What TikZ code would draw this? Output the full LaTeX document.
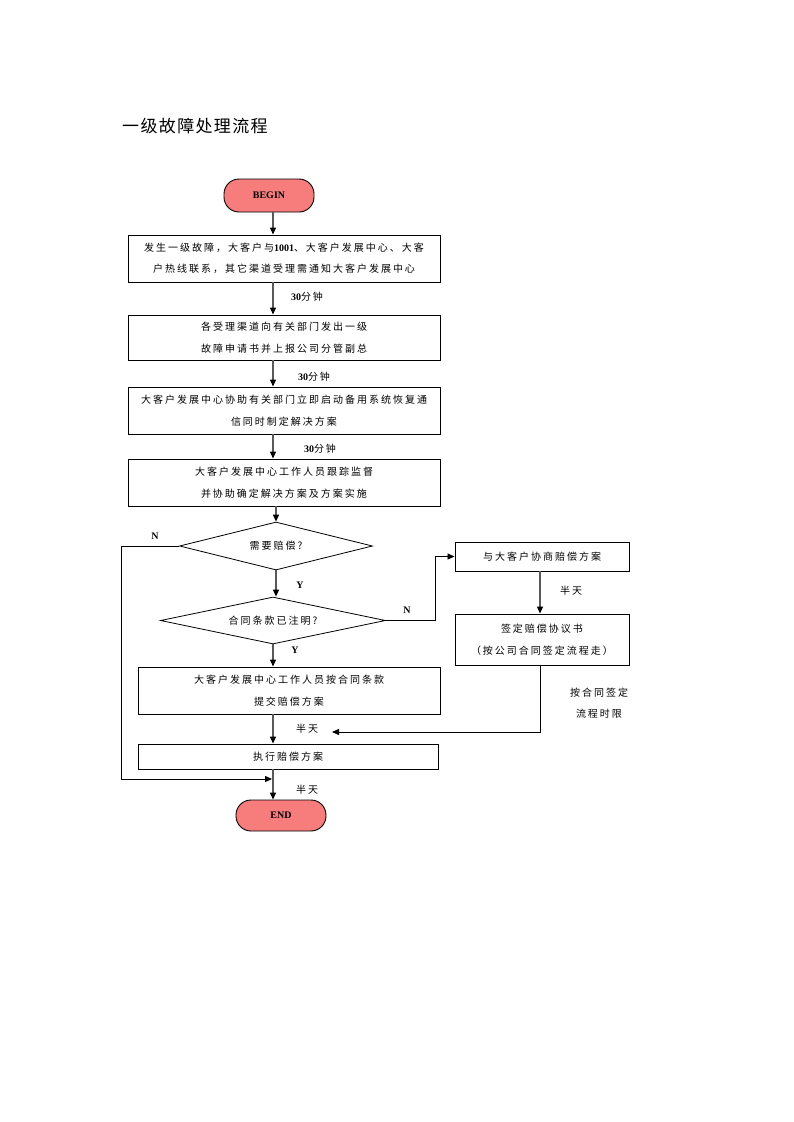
\documentclass[tikz,border=0pt]{standalone}
\usepackage{fontspec}
\setmainfont{Liberation Serif}
\newfontfamily\cjk[LetterSpace=20]{Noto Sans CJK SC}
\newfontfamily\cjktitle[LetterSpace=8]{Noto Sans CJK SC}
\usetikzlibrary{shapes.geometric,arrows.meta}
\definecolor{salmon}{RGB}{247,124,124}
\newcommand{\bn}[1]{{\rmfamily\bfseries #1}}
\begin{document}
\begin{tikzpicture}[x=1pt,y=-1pt,
  box/.style={draw=black,line width=0.9pt,rectangle,inner sep=0pt,align=center,
    font=\cjk\fontsize{10}{21.5}\selectfont},
  term/.style={draw=black,line width=0.9pt,rounded corners=15pt,fill=salmon,inner sep=0pt,
    minimum width=90pt,font=\rmfamily\bfseries\fontsize{10}{12}\selectfont},
  dia/.style={draw=black,line width=0.8pt,diamond,aspect=5,inner sep=0pt,
    font=\cjk\fontsize{10}{12}\selectfont},
  lbl/.style={inner sep=0pt,font=\cjk\fontsize{10}{21.5}\selectfont,align=center},
  yn/.style={inner sep=0pt,font=\rmfamily\bfseries\fontsize{10}{12}\selectfont},
  arr/.style={line width=1.2pt,draw=black!65,-{Triangle[length=7pt,width=6pt,fill=black,color=black]}},
  thin/.style={line width=0.8pt,draw=black,-{Triangle[length=7pt,width=6pt]}},
  plain/.style={line width=0.8pt,draw=black}]
\useasboundingbox (0,0) rectangle (793,1122);
\fill[white] (0,0) rectangle (793,1122);

\node[inner sep=0pt,anchor=west,font=\cjktitle\fontsize{17}{20}\selectfont] (title) at (122,126) {一级故障处理流程};

\node[term,minimum height=33pt] (begin) at (269,195.5) {BEGIN};
\node[box,minimum width=312pt,minimum height=47pt] (b1) at (284,258.5)
  {发生一级故障，大客户与\bn{1001}、大客户发展中心、大客\\户热线联系，其它渠道受理需通知大客户发展中心};
\node[box,minimum width=312pt,minimum height=45pt] (b2) at (284,337.5)
  {各受理渠道向有关部门发出一级\\故障申请书并上报公司分管副总};
\node[box,minimum width=312pt,minimum height=47pt] (b3) at (284,410.5)
  {大客户发展中心协助有关部门立即启动备用系统恢复通\\信同时制定解决方案};
\node[box,minimum width=312pt,minimum height=47pt] (b4) at (284,482.5)
  {大客户发展中心工作人员跟踪监督\\并协助确定解决方案及方案实施};
\node[dia,minimum width=193pt,minimum height=48pt] (d1) at (276,546) {需要赔偿?};
\node[dia,minimum width=225pt,minimum height=47pt] (d2) at (273,620.5) {合同条款已注明?};
\node[box,minimum width=174pt,minimum height=29pt] (b5) at (542,556.5) {与大客户协商赔偿方案};
\node[box,minimum width=174pt,minimum height=51pt] (b6) at (542,639.5)
  {签定赔偿协议书\\（按公司合同签定流程走）};
\node[box,minimum width=302pt,minimum height=47pt] (b7) at (289,690.5)
  {大客户发展中心工作人员按合同条款\\提交赔偿方案};
\node[box,minimum width=300pt,minimum height=25pt] (b8) at (288,756.5) {执行赔偿方案};
\node[term,minimum height=31pt] (end) at (281,815.5) {END};

\coordinate (c) at (273,0);
\coordinate (j) at (272,779);
\coordinate (jr) at (332,732);

\draw[arr] (begin.south -| c) -- (b1.north -| c);
\draw[arr] (b1.south -| c) -- (b2.north -| c);
\draw[arr] (b2.south -| c) -- (b3.north -| c);
\draw[arr] (b3.south -| c) -- (b4.north -| c);
\draw[arr] (b4.south -| d1.north) -- (d1.north);
\draw[arr] (d1.south) -- (d2.north -| d1.south);
\draw[arr] (d2.south -| c) -- (b7.north -| c);
\draw[arr] (b7.south -| c) -- (b8.north -| c);
\draw[arr] (b8.south -| c) -- (end.north -| c);
\draw[arr] (b5.south -| 540,0) -- (b6.north -| 540,0);

\draw[thin] (d1.west) -| (121,779) -- (j);
\draw[thin] (d2.east) -- (435,620.5) |- (b5.west);
\draw[thin] (b6.south -| 540,0) |- (jr);

\node[lbl] (t1) at (307,297) {\bn{30}分钟};
\node[lbl] (t2) at (314,377) {\bn{30}分钟};
\node[lbl] (t3) at (320,449) {\bn{30}分钟};
\node[yn] (n1) at (155,536) {N};
\node[yn] (y1) at (300,585) {Y};
\node[yn] (n2) at (407,610) {N};
\node[yn] (y2) at (295,650) {Y};
\node[lbl] (h1) at (571,591) {半天};
\node[lbl] (h2) at (307,729) {半天};
\node[lbl] (h3) at (307,790) {半天};
\node[lbl] (h4) at (599,703) {按合同签定\\流程时限};
\end{tikzpicture}
\end{document}
